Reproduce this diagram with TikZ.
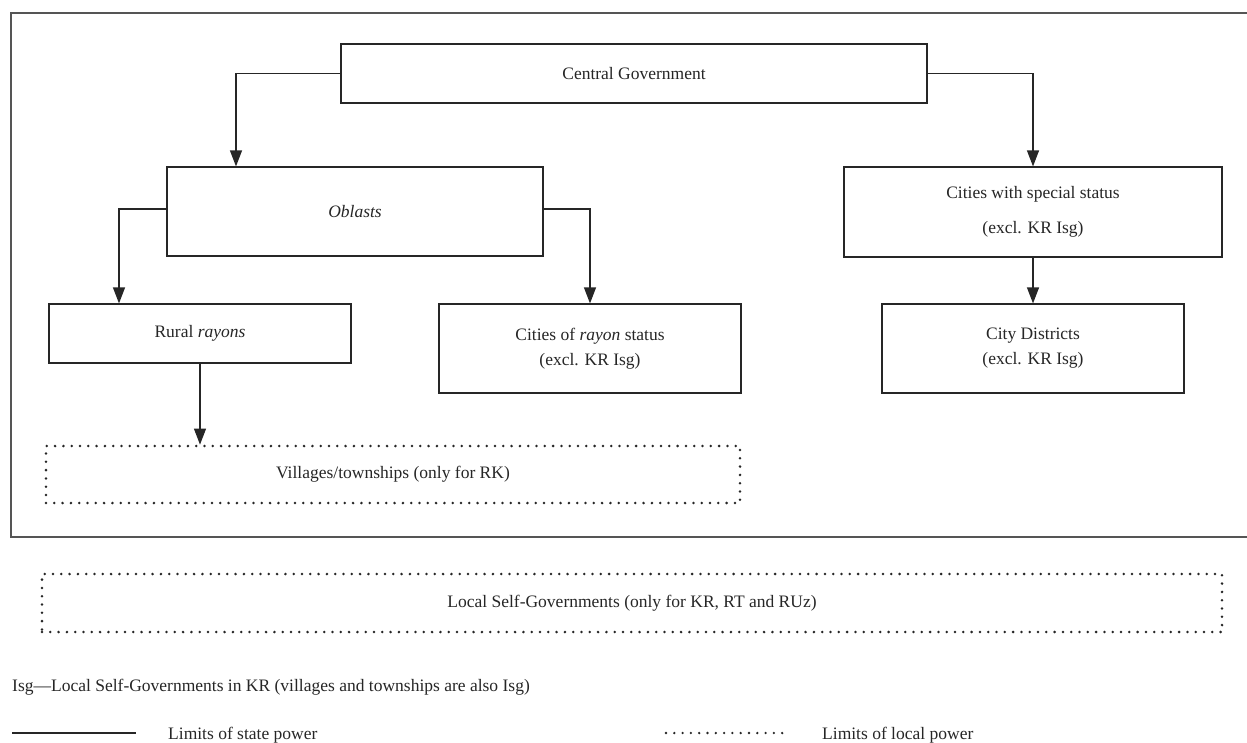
\documentclass[tikz,border=0pt]{standalone}
\usepackage{fontspec}
\setmainfont{Liberation Serif}
\usepackage{tikz}
\usepackage{xcolor}
\usetikzlibrary{arrows.meta, positioning}
\definecolor{FrameGray}{HTML}{555555}
\definecolor{InkGray}{HTML}{262626}

\begin{document}
\begin{tikzpicture}[x=1pt, y=-1pt, on grid, font=\fontsize{17.5}{25}\selectfont, text=InkGray,
    >={Triangle[length=16pt, width=12pt]},
    unit/.style={rectangle, draw=InkGray, line width=1.2pt, inner sep=0pt, align=center},
    localunit/.style={rectangle, draw=InkGray, line width=2.8pt, dash pattern=on 0pt off 8.3pt, line cap=round, inner sep=0pt, align=center},
    link/.style={->, draw=InkGray, line width=1.2pt},
    legend/.style={anchor=west, inner sep=0pt}]

        \useasboundingbox (0,0) rectangle (1247,742);

        % state frame, open on the right
        \draw[FrameGray, line width=1.5pt] (1250,13) -- (11,13) -- (11,537) -- (1250,537);

        \node[unit, minimum width=586pt, minimum height=59pt] (cg) at (634,73.5) {Central Government};

        \node[unit, minimum width=376pt, minimum height=89pt, below left=138pt and 279pt of cg] (ob) {\textit{Oblasts}};

        \node[unit, minimum width=378pt, minimum height=90pt, below right=138.5pt and 399pt of cg] (cs) {Cities with special status\\[10pt](excl. KR Isg)};

        \node[unit, minimum width=302pt, minimum height=59pt, below left=122pt and 155pt of ob] (rr) {Rural \textit{rayons}};

        \node[unit, minimum width=302pt, minimum height=89pt, below right=137pt and 235pt of ob] (cr) {Cities of \textit{rayon} status\\(excl. KR Isg)};

        \node[unit, minimum width=302pt, minimum height=89pt, below=136.5pt of cs] (cd) {City Districts\\(excl. KR Isg)};

        \node[localunit, minimum width=694pt, minimum height=57pt, below right=141pt and 193pt of rr] (vt) {Villages/townships (only for RK)};

        \node[localunit, minimum width=1180pt, minimum height=58pt] (ls) at (632,603) {Local Self-Governments (only for KR, RT and RUz)};

        \draw[link] (cg.west) -| ([xshift=-119pt]ob.north);
        \draw[link] (cg.east) -| (cs.north);
        \draw[link] ([yshift=2.5pt]ob.west) -| ([xshift=-81pt]rr.north);
        \draw[link] ([yshift=2.5pt]ob.east) -| (cr.north);
        \draw[link] (cs.south) -- (cd.north);
        \draw[link] (rr.south) -- (rr.south |- vt.north);

        % legend
        \node[legend] (isg) at (12,687) {Isg---Local Self-Governments in KR (villages and townships are also Isg)};
        \coordinate (sa) at (12,733);
        \coordinate (sb) at (136,733);
        \draw[InkGray, line width=1.2pt] (sa) -- (sb);
        \node[legend] (st) at (168,735) {Limits of state power};
        \coordinate (la) at (666,733);
        \coordinate (lb) at (790,733);
        \draw[InkGray, line width=2.6pt, dash pattern=on 0pt off 8.3pt, line cap=round] (la) -- (lb);
        \node[legend] (lc) at (822,735) {Limits of local power};

    \end{tikzpicture}
\end{document}
